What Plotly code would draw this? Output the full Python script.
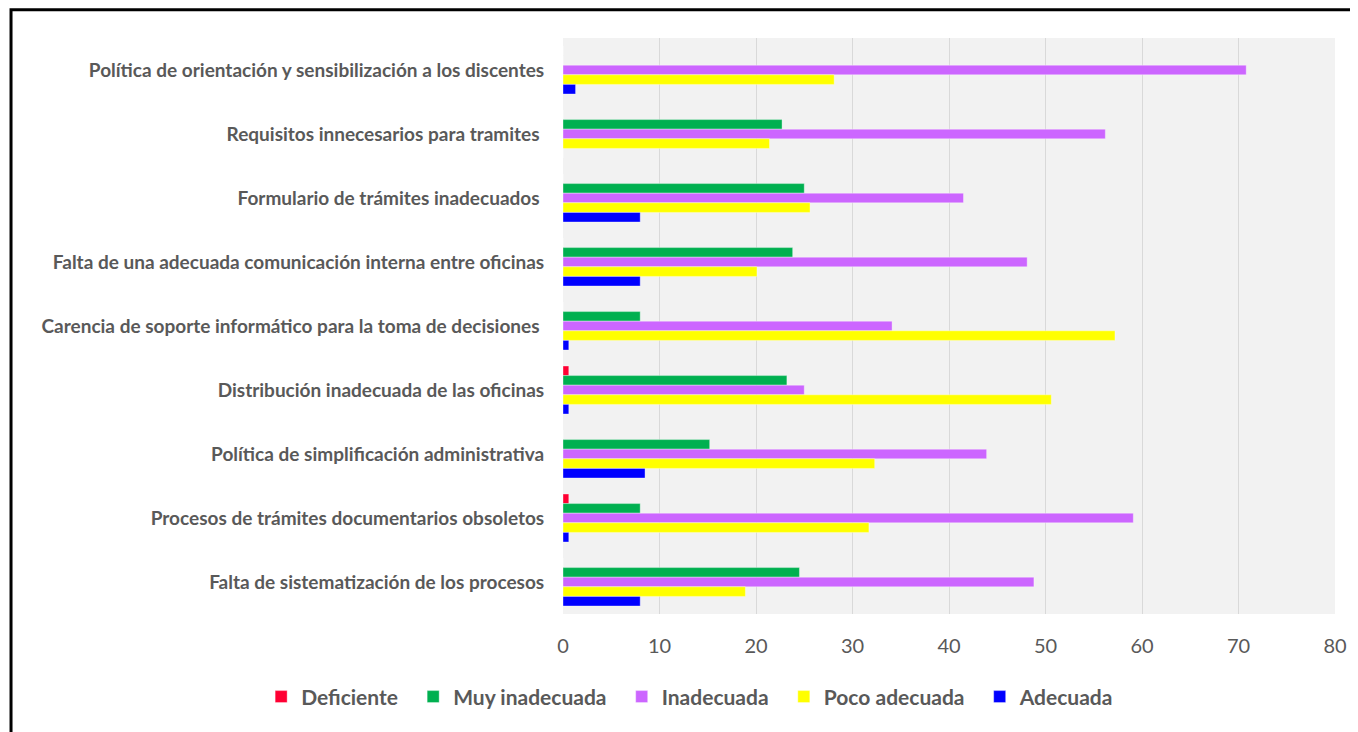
import plotly.graph_objects as go

# categorías (de arriba hacia abajo)
categorias = [
    "Política de orientación y sensibilización a los discentes",
    "Requisitos innecesarios para tramites\u00a0",
    "Formulario de trámites inadecuados\u00a0",
    "Falta de una adecuada comunicación interna entre oficinas",
    "Carencia de soporte informático para la toma de decisiones\u00a0",
    "Distribución inadecuada de las oficinas",
    "Política de simplificación administrativa",
    "Procesos de trámites documentarios obsoletos",
    "Falta de sistematización de los procesos",
]

deficiente = [0, 0, 0, 0, 0, 0.6, 0, 0.6, 0]
muy_inadecuada = [0, 22.7, 25.0, 23.8, 8.0, 23.2, 15.2, 8.0, 24.5]
inadecuada = [70.8, 56.2, 41.5, 48.1, 34.1, 25.0, 43.9, 59.1, 48.8]
poco_adecuada = [28.1, 21.4, 25.6, 20.1, 57.2, 50.6, 32.3, 31.7, 18.9]
adecuada = [1.3, 0, 8.0, 8.0, 0.6, 0.6, 8.5, 0.6, 8.0]

series = [
    ("Deficiente", deficiente, "#FF0033"),
    ("Muy inadecuada", muy_inadecuada, "#00B050"),
    ("Inadecuada", inadecuada, "#CC66FF"),
    ("Poco adecuada", poco_adecuada, "#FFFF00"),
    ("Adecuada", adecuada, "#0000FF"),
]

fuente = "Lato, 'Open Sans', sans-serif"
gris = "#595959"
relleno = "\u00a0\u00a0"  # separación extra entre elementos de la leyenda

fig = go.Figure()
for i, (nombre, valores, color) in enumerate(series):
    etiqueta = nombre + (relleno if i < len(series) - 1 else "")
    fig.add_trace(go.Bar(
        y=categorias, x=valores, name=etiqueta, orientation="h",
        marker=dict(color=color, line=dict(width=0.6, color="rgba(255,255,255,0.6)")),
    ))

# la página tiene 8px de margen en el body
fig.update_layout(
    barmode="group",
    bargap=0.25,
    bargroupgap=0,
    width=1350, height=724,
    margin=dict(l=555, r=23, t=30, b=118, autoexpand=False),
    paper_bgcolor="white",
    plot_bgcolor="#F2F2F2",
    font=dict(family=fuente, color=gris),
    showlegend=True,
    legend=dict(
        orientation="h", x=-0.391, xanchor="left", y=-0.144, yanchor="middle",
        font=dict(size=21, color=gris, family=fuente, weight="bold"),
        itemwidth=30, traceorder="normal",
    ),
    xaxis=dict(
        range=[0, 80], dtick=10, showgrid=True, gridcolor="#D9D9D9", gridwidth=1,
        zeroline=False, showline=False,
        ticks="outside", ticklen=14, tickcolor="rgba(0,0,0,0)",
        tickfont=dict(size=20, color=gris, family=fuente),
        fixedrange=True,
    ),
    yaxis=dict(
        autorange="reversed", showgrid=False, zeroline=False, showline=False,
        ticks="outside", ticklen=14, tickcolor="rgba(0,0,0,0)",
        tickfont=dict(size=19, color=gris, family=fuente, weight="bold"),
        fixedrange=True,
    ),
    shapes=[dict(
        type="rect", xref="paper", yref="paper",
        x0=-0.715, x1=1.2, y0=-0.4, y1=1.049,
        line=dict(color="black", width=3), layer="above",
    )],
)

fig.write_html("out.html")
